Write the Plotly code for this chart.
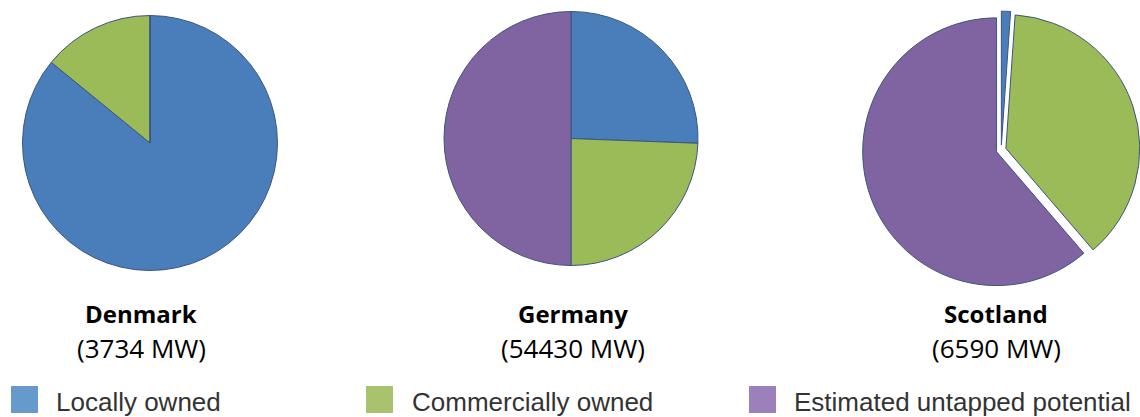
import plotly.graph_objects as go

W, H = 1140, 417

categories = ["Locally owned", "Commercially owned", "Estimated untapped potential"]
countries = ["Denmark", "Germany", "Scotland"]
capacity_labels = ["(3734 MW)", "(54430 MW)", "(6590 MW)"]

denmark_shares = [85.9, 14.1, 0.0]
germany_shares = [25.6, 24.4, 50.0]
scotland_shares = [1.1, 37.6, 61.3]

pie_colors = ["#4a7ebb", "#9bbb59", "#8064a2"]
legend_colors = ["#6699cc", "#a8c26d", "#9b80bb"]

def px_dom(cx, cy, half):
    x0 = max(0.0, (cx - half) / W)
    x1 = min(1.0, (cx + half) / W)
    y0 = max(0.0, 1 - (cy + half) / H)
    y1 = min(1.0, 1 - (cy - half) / H)
    return dict(x=[x0, x1], y=[y0, y1])

fig = go.Figure()

pies = [
    (denmark_shares, px_dom(150, 143, 127.5), 0.0),
    (germany_shares, px_dom(571, 138.5, 127), 0.0),
    (scotland_shares, px_dom(1001.4, 150, 139), 0.037),
]
for vals, dom, pull in pies:
    fig.add_trace(go.Pie(
        labels=categories, values=vals, sort=False, direction="clockwise",
        rotation=0, domain=dom, pull=[pull] * len(vals),
        marker=dict(colors=pie_colors, line=dict(color="#3b5580", width=1)),
        textinfo="none", hoverinfo="label+percent", showlegend=False,
    ))

# Country titles
title_x = [141, 573, 996]
for name, cap, x in zip(countries, capacity_labels, title_x):
    fig.add_annotation(x=x / W, y=1 - 313 / H, xref="paper", yref="paper",
                       text="<b>" + name + "</b>", showarrow=False,
                       xanchor="center", yanchor="middle",
                       font=dict(family="Open Sans", size=24, color="#000000"))
    fig.add_annotation(x=x / W, y=1 - 348 / H, xref="paper", yref="paper",
                       text=cap, showarrow=False,
                       xanchor="center", yanchor="middle",
                       font=dict(family="Open Sans", size=26, color="#000000"))

# Custom legend
sq_x = [11, 366, 749]
txt_x = [54, 410, 792]
for lab, col, sx, tx in zip(categories, legend_colors, sq_x, txt_x):
    fig.add_shape(type="rect", xref="paper", yref="paper",
                  x0=sx / W, x1=(sx + 27) / W, y0=1 - 413 / H, y1=1 - 386 / H,
                  fillcolor=col, line=dict(width=0))
    fig.add_annotation(x=tx / W, y=1 - 402 / H, xref="paper", yref="paper",
                       text=lab, showarrow=False, xanchor="left", yanchor="middle",
                       font=dict(family="Liberation Sans", size=26, color="#333333"))

fig.update_layout(width=W, height=H, margin=dict(l=0, r=0, t=0, b=0),
                  paper_bgcolor="white", plot_bgcolor="white")

fig.write_html("out.html")
